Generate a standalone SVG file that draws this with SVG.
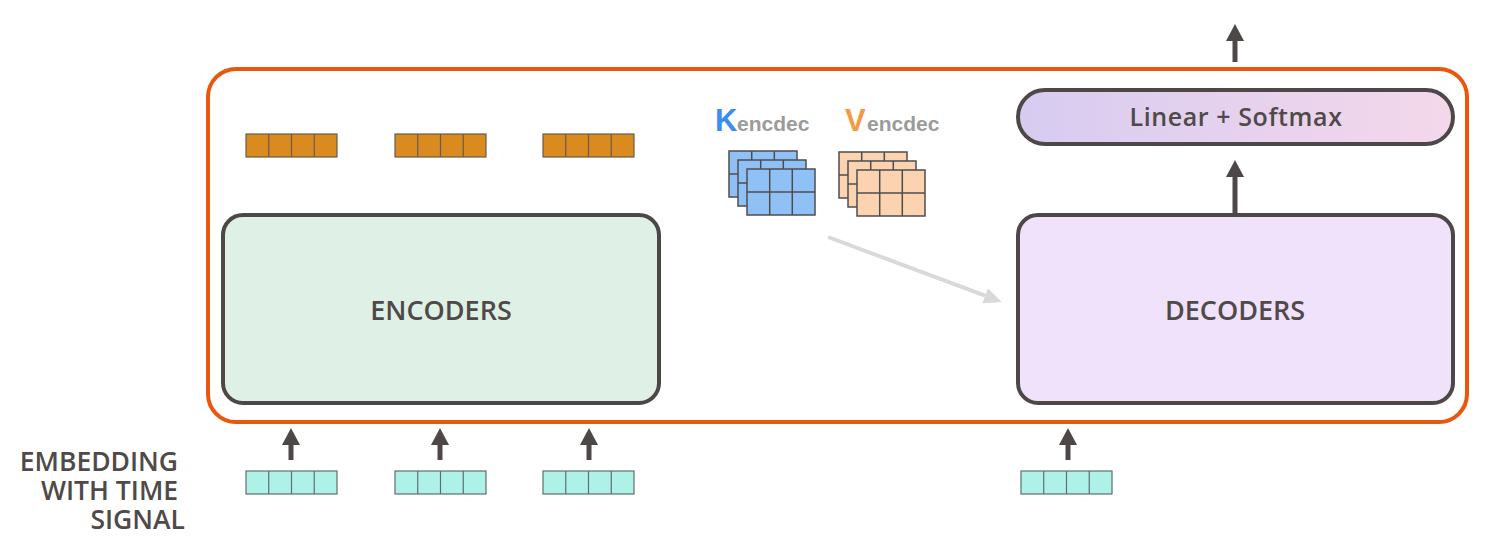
<svg xmlns="http://www.w3.org/2000/svg" xmlns:xlink="http://www.w3.org/1999/xlink" width="1495" height="556" viewBox="0 0 1495 556">
  <style>
    .box { stroke: #4d4847; stroke-width: 4; }
    .lbl { font-family: "Open Sans", "Liberation Sans", sans-serif; font-weight: 600; fill: #4f4a49; }
    .kv { font-family: "Liberation Sans", Arial, sans-serif; font-weight: bold; }
    .arrow { stroke: #4d4847; stroke-width: 5; fill: none; }
    .garrow { stroke: #d9d9d9; stroke-width: 4; fill: none; }
    .vecO { fill: #d98b20; stroke: #6a5b4c; stroke-width: 1.2; }
    .vecC { fill: #aef2e7; stroke: #5f6f6f; stroke-width: 1.2; }
  </style>
  <defs>
    <linearGradient id="lsGrad" x1="0" y1="0" x2="1" y2="0">
      <stop offset="0" stop-color="#d7cbf1"/>
      <stop offset="1" stop-color="#f4d8ea"/>
    </linearGradient>
    <marker id="headDark" markerUnits="userSpaceOnUse" markerWidth="18" markerHeight="18" viewBox="0 0 17 18" refX="0" refY="9" orient="auto">
      <path d="M0,0 L17,9 L0,18 Z" fill="#4d4847"/>
    </marker>
    <marker id="headGray" markerUnits="userSpaceOnUse" markerWidth="18" markerHeight="16" viewBox="0 0 18 16" refX="0" refY="8" orient="auto">
      <path d="M0,0 L18,8 L0,16 Z" fill="#d9d9d9"/>
    </marker>
    <g id="vec">
      <rect x="0" y="0" width="91" height="23"/>
      <path d="M22.75,0 V23 M45.5,0 V23 M68.25,0 V23" fill="none"/>
    </g>
    <g id="grid">
      <rect x="0" y="0" width="68" height="46" stroke="#4d4d4d" stroke-width="1.5"/>
      <path d="M22.7,0 V46 M45.3,0 V46 M0,23 H68" stroke="#4d4d4d" stroke-width="1.5" fill="none"/>
    </g>
  </defs>

  <rect width="1495" height="556" fill="#ffffff"/>

  <g id="outer-frame">
    <rect x="208" y="69" width="1259" height="353" rx="28" fill="none" stroke="#e8580c" stroke-width="4"/>
  </g>

  <g id="encoder-outputs">
    <use xlink:href="#vec" class="vecO" x="246" y="134"/>
    <use xlink:href="#vec" class="vecO" x="395" y="134"/>
    <use xlink:href="#vec" class="vecO" x="543" y="134"/>
  </g>

  <g id="encoders">
    <rect class="box" x="223" y="215" width="436" height="188" rx="20" fill="#dff1e6"/>
    <text class="lbl" x="441" y="320" font-size="27" text-anchor="middle">ENCODERS</text>
  </g>

  <g id="decoders">
    <rect class="box" x="1018" y="215" width="435" height="188" rx="20" fill="#efe2fa"/>
    <text class="lbl" x="1235" y="320" font-size="27" text-anchor="middle">DECODERS</text>
  </g>

  <g id="linear-softmax">
    <rect class="box" x="1018" y="90" width="435" height="54" rx="27" fill="url(#lsGrad)"/>
    <text class="lbl" x="1236" y="126" font-size="25" letter-spacing="0.6" text-anchor="middle">Linear + Softmax</text>
  </g>

  <g id="k-encdec">
    <text class="kv" x="715" y="131" font-size="31" fill="#3a8ef0">K</text>
    <text class="kv" x="737" y="131" font-size="21" fill="#9b9b9b">encdec</text>
    <use xlink:href="#grid" x="729" y="151" fill="#90c1f6"/>
    <use xlink:href="#grid" x="738" y="160" fill="#90c1f6"/>
    <use xlink:href="#grid" x="747" y="169" fill="#90c1f6"/>
  </g>

  <g id="v-encdec">
    <text class="kv" x="845" y="131" font-size="31" fill="#f39a45">V</text>
    <text class="kv" x="867" y="131" font-size="21" fill="#9b9b9b">encdec</text>
    <use xlink:href="#grid" x="839" y="152" fill="#fbd3b1"/>
    <use xlink:href="#grid" x="848" y="161" fill="#fbd3b1"/>
    <use xlink:href="#grid" x="857" y="170" fill="#fbd3b1"/>
  </g>

  <g id="embeddings">
    <use xlink:href="#vec" class="vecC" x="246" y="471"/>
    <use xlink:href="#vec" class="vecC" x="395" y="471"/>
    <use xlink:href="#vec" class="vecC" x="543" y="471"/>
    <use xlink:href="#vec" class="vecC" x="1021" y="471"/>
  </g>

  <g id="embedding-label">
    <text class="lbl" font-size="26.5" text-anchor="end">
      <tspan x="185" y="471">EMBEDDING</tspan>
      <tspan x="185" y="500">WITH TIME</tspan>
      <tspan x="185" y="529">SIGNAL</tspan>
    </text>
  </g>

  <g id="connectors">
    <path class="arrow" d="M1235,62 V41" marker-end="url(#headDark)"/>
    <path class="arrow" d="M1235,213 V177" marker-end="url(#headDark)"/>
    <path class="arrow" d="M291,460 V445" marker-end="url(#headDark)"/>
    <path class="arrow" d="M440,460 V445" marker-end="url(#headDark)"/>
    <path class="arrow" d="M589,460 V445" marker-end="url(#headDark)"/>
    <path class="arrow" d="M1068,460 V445" marker-end="url(#headDark)"/>
    <path class="garrow" d="M828,237 L985,295.7" marker-end="url(#headGray)"/>
  </g>
</svg>
